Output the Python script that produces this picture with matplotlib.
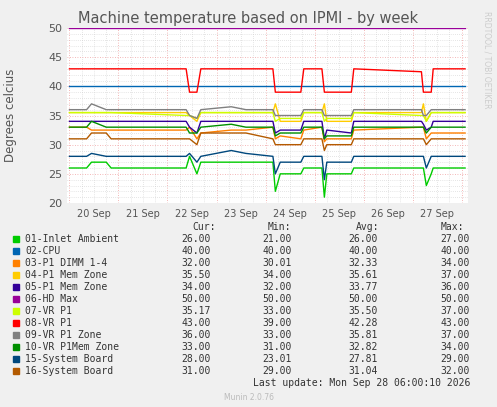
import matplotlib
matplotlib.use("Agg")
import matplotlib.pyplot as plt
import numpy as np

# days since 20 Sep 00:00
names = ["01-Inlet Ambient", "02-CPU", "03-P1 DIMM 1-4", "04-P1 Mem Zone", "05-P1 Mem Zone",
         "06-HD Max", "07-VR P1", "08-VR P1", "09-VR P1 Zone", "10-VR P1Mem Zone",
         "15-System Board", "16-System Board"]
colors = ["#00CC00", "#0066B3", "#FF8000", "#FFCC00", "#330099", "#990099",
          "#CCFF00", "#FF0000", "#808080", "#008F00", "#00487D", "#B35A00"]
cur = ["26.00", "40.00", "32.00", "35.50", "34.00", "50.00", "35.17", "43.00", "36.00", "33.00", "28.00", "31.00"]
mins = ["21.00", "40.00", "30.01", "34.00", "32.00", "50.00", "33.00", "39.00", "33.00", "31.00", "23.01", "29.00"]
avgs = ["26.00", "40.00", "32.33", "35.61", "33.77", "50.00", "35.50", "42.28", "35.81", "32.82", "27.81", "31.04"]
maxs = ["27.00", "40.00", "34.00", "37.00", "36.00", "50.00", "37.00", "43.00", "37.00", "34.00", "29.00", "32.00"]

T = [0.0, 0.35, 0.45, 0.75, 0.85, 2.38, 2.45, 2.6, 2.68, 3.3, 3.6, 4.15, 4.2, 4.3, 4.72, 4.78,
     5.15, 5.2, 5.25, 5.75, 5.8, 7.18, 7.22, 7.28, 7.38, 7.42, 8.07]
series = {
    "01-Inlet Ambient": [26, 26, 27, 27, 26, 26, 28, 25, 27, 27, 27, 27, 22, 25, 25, 26, 26, 21, 25, 25, 26, 26, 26, 23, 25, 26, 26],
    "02-CPU":           [40] * 27,
    "03-P1 DIMM 1-4":   [33, 33, 32.5, 32.5, 32.5, 32.5, 33, 31, 32, 32.5, 32.5, 33, 31, 31.5, 31, 32.5, 33, 30.5, 31, 31, 32.5, 33, 33, 31, 32, 32, 32],
    "04-P1 Mem Zone":   [35.5, 35.5, 35.5, 35.5, 35.5, 35.5, 35, 34, 35.5, 35.5, 35.5, 35.5, 37, 34, 34, 35.5, 35.5, 37, 34, 34, 35.5, 35.5, 37, 34, 35.5, 35.5, 35.5],
    "05-P1 Mem Zone":   [34] * 5 + [34, 33, 32, 34, 34, 34, 34, 32, 32.5, 32.5, 34, 34, 31, 32.5, 32, 34, 34, 33.5, 32.5, 33, 34, 34],
    "06-HD Max":        [50] * 27,
    "07-VR P1":         [35.5, 35.5, 35.5, 35.5, 35.5, 35, 35, 34.5, 35.5, 35.5, 35.5, 35.5, 34, 34.5, 34.5, 35.5, 35.5, 34, 34.5, 34.5, 35.5, 35, 35, 34, 35.5, 35.5, 35.5],
    "08-VR P1":         [43, 43, 43, 43, 43, 43, 39, 39, 43, 43, 43, 43, 39, 39, 39, 43, 43, 39, 39, 39, 43, 42.5, 39, 39, 39, 43, 43],
    "09-VR P1 Zone":    [36, 36, 37, 36, 36, 36, 35, 34.5, 36, 36.5, 36, 36, 35, 35, 35, 36, 36, 35, 35, 35, 36, 36, 35, 35, 36, 36, 36],
    "10-VR P1Mem Zone": [33, 33, 34, 33, 33, 33, 32, 32, 33, 33.5, 33, 33, 31.5, 32, 32, 33, 33, 31, 31.5, 31.5, 33, 33, 33, 32, 33, 33, 33],
    "15-System Board":  [28, 28, 28.5, 28, 28, 28, 28.5, 27, 28, 29, 28.5, 28, 25, 27, 27, 28, 28, 24, 27, 27, 28, 28, 28, 26, 28, 28, 28],
    "16-System Board":  [31, 31, 32, 32, 31, 31, 31, 30, 32, 32, 32, 31, 30, 30, 30, 31, 31, 29, 30, 30, 31, 31, 31, 30, 31, 31, 31],
}
day_labels = ["20 Sep", "21 Sep", "22 Sep", "23 Sep", "24 Sep", "25 Sep", "26 Sep", "27 Sep"]

bg = "#f0f0f0"
fig = plt.figure(figsize=(4.97, 4.07), dpi=100, facecolor=bg)
ax = fig.add_axes([67 / 497, 1 - 203 / 407, 401 / 497, 175 / 407])
ax.set_facecolor("white")

for n, c in zip(names, colors):
    ax.plot(T, series[n], color=c, lw=1)

ax.set_xlim(-0.05, 8.13)
ax.set_ylim(20, 50)
ax.set_yticks(range(20, 51, 5))
ax.set_yticks(np.arange(20, 50.1, 1), minor=True)
ax.set_xticks(np.arange(0, 8.2, 1))
ax.set_xticks(np.arange(0, 8.2, 0.25), minor=True)
ax.set_xticklabels([])
for i, d in enumerate(day_labels):
    ax.text(i + 0.5, 18.9, d, ha="center", va="top", fontsize=7, color="#555555")
ax.grid(True, which="major", color="#f0a0a0", ls=(0, (1, 2)), lw=0.6)
ax.grid(True, which="minor", color="#cccccc", ls=(0, (1, 2)), lw=0.5)
ax.set_axisbelow(True)
ax.tick_params(which="both", length=0, labelsize=8, colors="#555555")
for s in ax.spines.values():
    s.set_visible(False)
fig.text(11 / 497, 1 - 115 / 407, "Degrees celcius", rotation=90, fontsize=8.5, color="#555555",
         ha="center", va="center")

fig.text(248 / 497, 1 - 19 / 407, "Machine temperature based on IPMI - by week", ha="center", va="center",
         fontsize=10.5, color="#555555")
fig.text(487 / 497, 1 - 60 / 407, "RRDTOOL / TOBI OETIKER", rotation=270, ha="center", va="center",
         fontsize=5.5, color="#cccccc")

mono = "DejaVu Sans Mono"
fs = 7
y0 = 227
fig.text(192 / 497, 1 - y0 / 407, "Cur:", fontsize=fs, family=mono, color="#333333", va="center")
fig.text(268 / 497, 1 - y0 / 407, "Min:", fontsize=fs, family=mono, color="#333333", va="center")
fig.text(356 / 497, 1 - y0 / 407, "Avg:", fontsize=fs, family=mono, color="#333333", va="center")
fig.text(441 / 497, 1 - y0 / 407, "Max:", fontsize=fs, family=mono, color="#333333", va="center")
for i, n in enumerate(names):
    y = 1 - (y0 + 12.0 * (i + 1)) / 407
    fig.patches.append(plt.Rectangle((13 / 497, y - 3 / 407), 6 / 497, 6 / 407, color=colors[i],
                                     transform=fig.transFigure))
    fig.text(25 / 497, y, n, fontsize=fs, family=mono, color="#333333", va="center")
    for xr, v in zip([211, 292, 378, 470], [cur[i], mins[i], avgs[i], maxs[i]]):
        fig.text(xr / 497, y, v, fontsize=fs, family=mono, color="#333333", va="center", ha="right")
fig.text(470 / 497, 1 - 383 / 407, "Last update: Mon Sep 28 06:00:10 2026", fontsize=fs, family=mono,
         color="#333333", va="center", ha="right")
fig.text(0.5, 1 - 398 / 407, "Munin 2.0.76", fontsize=5.5, color="#bbbbbb", ha="center", va="center")

fig.savefig("out.png", dpi=100, facecolor=bg)
